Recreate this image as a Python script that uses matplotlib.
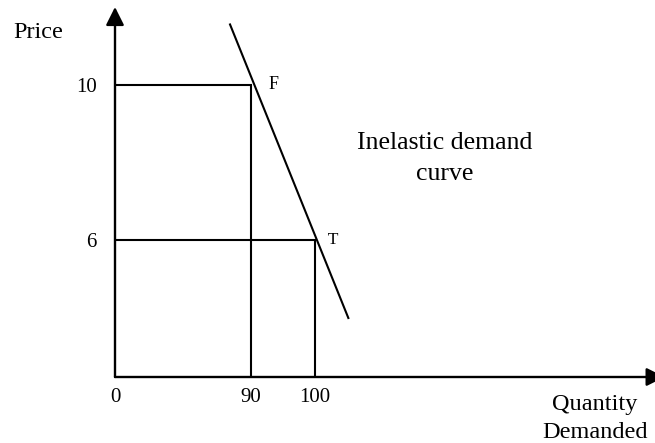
import numpy as np
import matplotlib
matplotlib.use("Agg")
from matplotlib import pyplot as plt

plt.rcParams['font.family'] = ['Liberation Serif', 'DejaVu Serif']

# data
prices = [10, 6]
quantities = [90, 100]
point_labels = ['F', 'T']
demand_q = [76.1, 105.2]
demand_p = [11.55, 2.58]
x_ticks = [0, 90, 100]
y_ticks = [6, 10]
x_max = 153.1
y_max = 12.0

# schematic (not to scale) axes: piecewise-linear mapping, in pixels
x_break, x_break_px, x_slope = 90, 136.0, 6.4
y_break, y_break_px, y_slope = 6, 137.0, 38.75


def fwd_x(q):
    q = np.asarray(q, float)
    return np.where(q <= x_break, q * x_break_px / x_break,
                    x_break_px + (q - x_break) * x_slope)


def inv_x(d):
    d = np.asarray(d, float)
    return np.where(d <= x_break_px, d * x_break / x_break_px,
                    x_break + (d - x_break_px) / x_slope)


def fwd_y(p):
    p = np.asarray(p, float)
    return np.where(p <= y_break, p * y_break_px / y_break,
                    y_break_px + (p - y_break) * y_slope)


def inv_y(d):
    d = np.asarray(d, float)
    return np.where(d <= y_break_px, d * y_break / y_break_px,
                    y_break + (d - y_break_px) / y_slope)


W, H = 655, 443
fig = plt.figure(figsize=(W / 100, H / 100), dpi=100)
ax = fig.add_axes([115 / W, (H - 377) / H, 540 / W, 370 / H])
ax.set_xscale('function', functions=(fwd_x, inv_x))
ax.set_yscale('function', functions=(fwd_y, inv_y))
ax.set_xlim(0, x_max)
ax.set_ylim(0, y_max)
for s in ax.spines.values():
    s.set_visible(False)
ax.patch.set_alpha(0)

# axes with arrows
arrow = dict(arrowstyle='-|>,head_length=1.1,head_width=0.55', color='black',
             lw=1.7, mutation_scale=10, shrinkA=0, shrinkB=0)
ax.annotate('', xy=(0, y_max), xytext=(0, 0), arrowprops=arrow, annotation_clip=False)
ax.annotate('', xy=(154.6, 0), xytext=(0, 0), arrowprops=arrow, annotation_clip=False)

# price/quantity rectangles
for q, p in zip(quantities, prices):
    ax.plot([0, q, q], [p, p, 0], color='black', lw=1.5, solid_joinstyle='miter')
ax.text(quantities[0], prices[0], '    ' + point_labels[0], fontsize=13, va='center')
ax.text(quantities[1], prices[1], '   ' + point_labels[1], fontsize=12.5, va='center')

# demand curve
ax.plot(demand_q, demand_p, color='black', lw=1.5)

ax.set_xticks(x_ticks)
ax.set_xticklabels([str(v) for v in x_ticks], fontsize=15)
ax.set_yticks(y_ticks)
ax.set_yticklabels([str(v) for v in y_ticks], fontsize=15)
ax.minorticks_off()
ax.tick_params(axis='x', length=0, pad=8)
ax.tick_params(axis='y', length=0, pad=13)

fig.text(13 / W, 1 - 38 / H, 'Price', fontsize=17.5, va='baseline')
fig.text(595 / W, 1 - 410 / H, 'Quantity', fontsize=17.5, ha='center', va='baseline')
fig.text(595 / W, 1 - 438 / H, 'Demanded', fontsize=17.5, ha='center', va='baseline')
fig.text(445 / W, 1 - 149 / H, 'Inelastic demand', fontsize=18.5, ha='center', va='baseline')
fig.text(445 / W, 1 - 180 / H, 'curve', fontsize=18.5, ha='center', va='baseline')

fig.savefig('out.png', dpi=100)
